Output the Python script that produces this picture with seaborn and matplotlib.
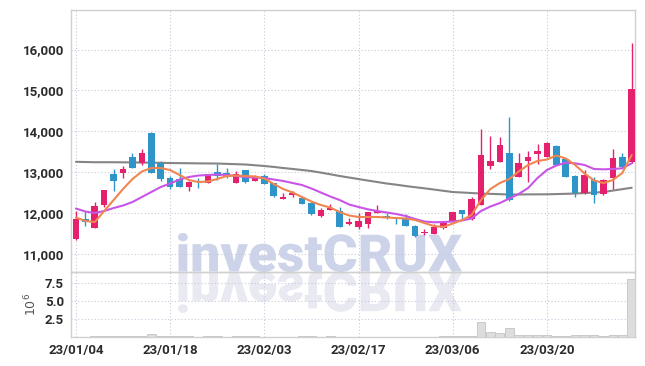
import numpy as np
import pandas as pd
import seaborn as sns
import matplotlib
matplotlib.use("Agg")
import matplotlib.pyplot as plt
from matplotlib.textpath import TextPath
from matplotlib.patches import PathPatch
from matplotlib.font_manager import FontProperties
from matplotlib.transforms import Affine2D

sns.set_theme(style="white")
plt.rcParams['font.family'] = ['Roboto', 'DejaVu Sans']

# === data ===
tick_days = [0, 10, 20, 30, 40, 50]
tick_labels = ["23/01/04", "23/01/18", "23/02/03", "23/02/17", "23/03/06", "23/03/20"]

open_ = [11350, 11840, 11640, 12180, 12950, 12980, 13370, 13210, 13960, 13230,
         12850, 12830, 12640, 12780, 12730, 13010, 12980, 12740, 13050, 12790,
         12900, 12720, 12350, 12430, 12360, 12250, 11920, 12080, 12050, 11720,
         11650, 11720, 12000, 11920, 11880, 11880, 11680, 11500, 11480, 11640,
         11800, 12070, 11840, 12190, 13150, 13250, 13470, 12890, 13270, 13450,
         13380, 13640, 13320, 12910, 12480, 12800, 12460, 12850, 13370, 13240]
high = [12050, 12040, 12260, 12570, 13070, 13150, 13460, 13560, 13990, 13270,
        12900, 13100, 12770, 12860, 12960, 13190, 13090, 13030, 13060, 12930,
        12950, 12730, 12490, 12540, 12370, 12260, 12120, 12210, 12140, 11870,
        12000, 12020, 12190, 11990, 11890, 11970, 11690, 11600, 11730, 11780,
        12030, 12080, 12380, 14050, 13880, 13870, 14340, 13460, 13520, 13680,
        13740, 13650, 13330, 12930, 13050, 12890, 12830, 13560, 13470, 16170]
low = [11330, 11680, 11630, 12150, 12540, 12850, 13090, 13170, 12980, 12790,
       12580, 12640, 12540, 12600, 12730, 12800, 12850, 12730, 12740, 12780,
       12700, 12400, 12340, 12380, 12210, 11940, 11910, 12070, 11650, 11710,
       11600, 11640, 11990, 11840, 11720, 11680, 11400, 11460, 11470, 11600,
       11790, 11820, 11830, 12180, 13070, 13240, 12300, 12880, 12760, 13200,
       13370, 13170, 12880, 12400, 12470, 12250, 12440, 12580, 13120, 13230]
close = [11850, 11780, 12170, 12560, 12780, 13070, 13100, 13470, 12980, 12830,
         12640, 12640, 12755, 12750, 12950, 12900, 12920, 12950, 12755, 12860,
         12710, 12410, 12400, 12480, 12220, 11970, 12070, 12125, 11660, 11780,
         11800, 12010, 12045, 11890, 11840, 11680, 11440, 11540, 11645, 11740,
         12010, 11980, 12330, 13420, 13270, 13660, 12310, 13230, 13360, 13510,
         13710, 13180, 12890, 12480, 12930, 12440, 12800, 13350, 13130, 15030]

ma_short = [11885, 11800, 11775, 12045, 12314, 12584, 12829, 13012, 13098, 13098,
            13049, 12927, 12804, 12755, 12767, 12829, 12902, 12914, 12902, 12890,
            12841, 12706, 12584, 12498, 12388, 12277, 12192, 12130, 12020, 11934,
            11898, 11898, 11898, 11885, 11873, 11861, 11824, 11750, 11677, 11653,
            11738, 11824, 11947, 12314, 12584, 12730, 12829, 13012, 13172, 13270,
            13306, 13404, 13331, 13172, 12963, 12792, 12730, 12804, 12976, 13417]
ma_mid = [12106, 12032, 11996, 12045, 12118, 12179, 12265, 12388, 12510, 12633,
          12718, 12816, 12878, 12914, 12927, 12939, 12927, 12902, 12878, 12865,
          12853, 12816, 12780, 12731, 12682, 12596, 12498, 12400, 12314, 12204,
          12143, 12086, 12045, 12008, 11971, 11922, 11849, 11787, 11768, 11775,
          11787, 11812, 11861, 12045, 12155, 12240, 12351, 12461, 12608, 12853,
          13049, 13159, 13228, 13213, 13172, 13074, 13066, 13074, 13091, 13213]
ma_long = [13250, 13245, 13240, 13240, 13240, 13238, 13235, 13232, 13230, 13225,
           13220, 13218, 13215, 13212, 13210, 13208, 13200, 13192, 13184, 13166,
           13147, 13125, 13098, 13075, 13050, 13024, 12985, 12945, 12902, 12865,
           12828, 12790, 12755, 12718, 12690, 12657, 12628, 12600, 12571, 12540,
           12510, 12498, 12485, 12473, 12465, 12457, 12449, 12450, 12452, 12453,
           12454, 12460, 12466, 12473, 12485, 12497, 12510, 12545, 12580, 12615]

volume = [0.03, 0.05, 0.10, 0.12, 0.12, 0.10, 0.11, 0.13, 0.40, 0.10,
          0.09, 0.10, 0.10, 0.08, 0.09, 0.10, 0.05, 0.10, 0.12, 0.11,
          0.06, 0.04, 0.03, 0.04, 0.10, 0.09, 0.03, 0.10, 0.08, 0.03,
          0.03, 0.02, 0.02, 0.03, 0.02, 0.02, 0.03, 0.02, 0.03, 0.10,
          0.10, 0.18, 0.20, 2.05, 0.70, 0.60, 1.25, 0.28, 0.27, 0.26,
          0.27, 0.15, 0.18, 0.28, 0.28, 0.27, 0.15, 0.27, 0.28, 8.05]

df = pd.DataFrame({"day": np.arange(len(close)), "open": open_, "high": high,
                   "low": low, "close": close, "ma5": ma_short, "ma20": ma_mid,
                   "ma_long": ma_long, "vol": volume})

UP = "#e5206c"
DOWN = "#2f95c8"
GRID = "#c9c9de"
SPINE = "#d0d0d0"
TXT = "#2b2b2b"

fig = plt.figure(figsize=(6.45, 3.66), dpi=100)
fig.patch.set_facecolor("white")
ax = fig.add_axes([0.110, 0.2568, 0.8745, 0.7159])
axv = fig.add_axes([0.110, 0.0790, 0.8745, 0.1778])
for a in (ax, axv):
    a.set_facecolor("none")

# === watermark (with mirrored reflection) ===
fp = FontProperties(family="Roboto", weight="black", style="normal")
tp = TextPath((0, 0), "investCRUX", size=1, prop=fp)
bb = tp.get_extents()
x0, x1 = 178 / 645, 462 / 645
ytop, ybot, yref = 1 - 233 / 366, 1 - 272 / 366, 1 - 313 / 366
sx = (x1 - x0) / bb.width
sy = (ytop - ybot) / bb.height
tr = Affine2D().translate(-bb.x0, -bb.y0).scale(sx, sy).translate(x0, ybot)
fig.add_artist(PathPatch(tp, transform=tr + fig.transFigure, color="#cdd3e8",
                         lw=0, zorder=-5))
sy2 = (ybot - yref) / bb.height
tr2 = Affine2D().translate(-bb.x0, -bb.y0).scale(sx, -sy2).translate(x0, ybot)
fig.add_artist(PathPatch(tp, transform=tr2 + fig.transFigure, color="#e8e9f1",
                         lw=0, zorder=-5))

# === candles ===
up = df["close"] >= df["open"]
cols = np.where(up, UP, DOWN)
body_lo = np.minimum(df["open"], df["close"])
body_h = np.maximum((df["close"] - df["open"]).abs(), 25)
ax.vlines(df["day"], df["low"], df["high"], colors=cols, lw=1.0, zorder=3)
ax.bar(df["day"], body_h, bottom=body_lo, width=0.7, color=cols, lw=0, zorder=4)

# === moving averages ===
sns.lineplot(data=df, x="day", y="ma_long", ax=ax, color="#858585", lw=1.5, zorder=2)
sns.lineplot(data=df, x="day", y="ma20", ax=ax, color="#c955e6", lw=1.5, zorder=5)
sns.lineplot(data=df, x="day", y="ma5", ax=ax, color="#f0864f", lw=1.5, zorder=6)

ax.set_xlim(-0.53, 59.35)
ax.set_ylim(10550, 16970)
ax.set_yticks([11000, 12000, 13000, 14000, 15000, 16000])
ax.set_yticklabels([f"{v:,}" for v in [11000, 12000, 13000, 14000, 15000, 16000]])
ax.set_xticks(tick_days)
ax.set_xticklabels([])
ax.set_xlabel("")
ax.set_ylabel("")

# === volume ===
axv.bar(df["day"], df["vol"], width=0.92, color="#dddddd", edgecolor="#c4c4c4",
        lw=0.6, zorder=3)
axv.set_xlim(-0.53, 59.35)
axv.set_ylim(0, 8.95)
axv.set_yticks([2.5, 5.0, 7.5])
axv.set_yticklabels(["2.5", "5.0", "7.5"])
axv.set_xticks(tick_days)
axv.set_xticklabels(tick_labels)
axv.set_ylabel("$10^{6}$", fontsize=9, color="#555555", labelpad=4,
               family="DejaVu Serif")

for a in (ax, axv):
    a.grid(True, ls=(0, (1, 2)), color=GRID, lw=0.8)
    a.set_axisbelow(True)
    a.tick_params(length=0, pad=5, labelsize=9.5, labelcolor=TXT)
    for lab in a.get_xticklabels() + a.get_yticklabels():
        lab.set_fontweight("bold")
    for s in a.spines.values():
        s.set_color(SPINE)
        s.set_linewidth(1.0)

fig.savefig("out.png", dpi=100)
